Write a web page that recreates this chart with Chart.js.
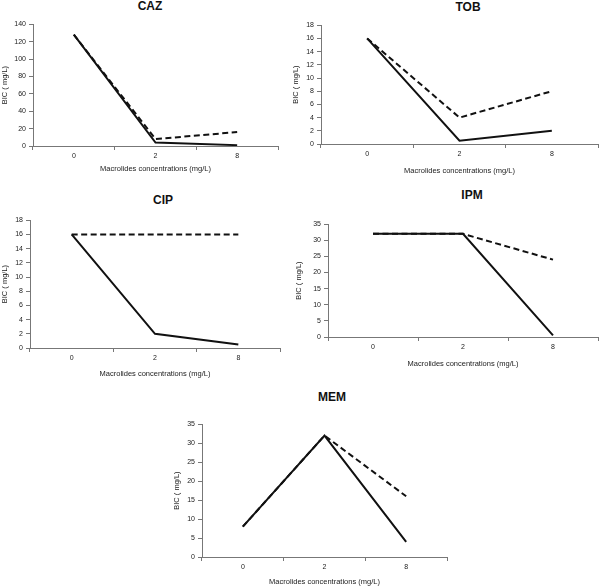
<!DOCTYPE html>
<html>
<head>
<meta charset="utf-8">
<script src="https://cdn.jsdelivr.net/npm/chart.js@4.4.0/dist/chart.umd.min.js"></script>
<style>
  html, body { margin: 0; padding: 0; background: #fff; }
  #wrap { position: relative; width: 600px; height: 587px; overflow: hidden; background: #fff; }
  canvas { position: absolute; }
  .ttl { position: absolute; transform: translate(-50%, -50%); font: bold 12px "Liberation Sans", Arial, sans-serif; color: #111; white-space: nowrap; }
</style>
</head>
<body>
<div id="wrap"></div>
<script>
// ---- data ----
const categories = ['0', '2', '8'];
const xAxisTitle = 'Macrolides concentrations (mg/L)';
const yAxisTitle = 'BIC ( mg/L)';

const cazSolid  = [128, 4, 1];
const cazDashed = [128, 8, 16];
const tobSolid  = [16, 0.5, 2];
const tobDashed = [16, 4, 8];
const cipSolid  = [16, 2, 0.5];
const cipDashed = [16, 16, 16];
const ipmSolid  = [32, 32, 0.5];
const ipmDashed = [32, 32, 24];
const memSolid  = [8, 32, 4];
const memDashed = [8, 32, 16];

const panelNames = ['CAZ', 'TOB', 'CIP', 'IPM', 'MEM'];
const yMaxes  = [140, 18, 18, 35, 35];
const ySteps  = [20, 2, 2, 5, 5];

// ---- layout (pixel geometry only) ----
const layouts = [
  { tx: 150, ty: 6,   sl: 0,   ax: 33,  right: 278, top: 23,  bottom: 146, xd: 22 },
  { tx: 468, ty: 7,   sl: 291, ax: 321, right: 598, top: 24,  bottom: 144, xd: 26 },
  { tx: 163, ty: 200, sl: 0,   ax: 30,  right: 280, top: 219, bottom: 348, xd: 25 },
  { tx: 472, ty: 195, sl: 294, ax: 328, right: 598, top: 223, bottom: 337, xd: 26 },
  { tx: 332, ty: 397, sl: 172, ax: 202, right: 447, top: 423, bottom: 557, xd: 24 }
];
const solids  = [cazSolid, tobSolid, cipSolid, ipmSolid, memSolid];
const dasheds = [cazDashed, tobDashed, cipDashed, ipmDashed, memDashed];

const wrap = document.getElementById('wrap');
const FONT = '"Liberation Sans", Arial, sans-serif';
const axisColor = '#777';
const textColor = '#222';

panelNames.forEach((name, i) => {
  const L = layouts[i];
  const padTop = 6, padRight = 4;
  const titleFont = 7.5, titleLH = titleFont * 1.2;
  const xH = Math.round(L.xd + titleLH / 2);
  const w = L.right - L.sl + padRight;
  const h = padTop + (L.bottom - L.top) + xH;

  const t = document.createElement('div');
  t.className = 'ttl';
  t.style.left = L.tx + 'px';
  t.style.top = L.ty + 'px';
  t.textContent = name;
  wrap.appendChild(t);

  const c = document.createElement('canvas');
  c.width = w; c.height = h;
  c.style.left = L.sl + 'px';
  c.style.top = (L.top - padTop) + 'px';
  c.style.width = w + 'px';
  c.style.height = h + 'px';
  wrap.appendChild(c);

  new Chart(c.getContext('2d'), {
    type: 'line',
    data: {
      labels: categories,
      datasets: [
        { data: solids[i], borderColor: '#111', borderWidth: 2, pointRadius: 0, tension: 0, fill: false },
        { data: dasheds[i], borderColor: '#111', borderWidth: 2, borderDash: [6, 3.5], pointRadius: 0, tension: 0, fill: false }
      ]
    },
    options: {
      responsive: false,
      animation: false,
      devicePixelRatio: 1,
      layout: { padding: { top: padTop, right: padRight, left: 0, bottom: 0 } },
      plugins: { legend: { display: false }, tooltip: { enabled: false }, title: { display: false } },
      scales: {
        x: {
          type: 'category',
          offset: true,
          grid: { offset: true, drawOnChartArea: false, drawTicks: true, tickLength: 4, color: axisColor },
          border: { color: axisColor, width: 1 },
          ticks: { font: { family: FONT, size: 7 }, color: textColor, padding: 2, maxRotation: 0, autoSkip: false },
          title: { display: true, text: xAxisTitle, font: { family: FONT, size: titleFont }, color: textColor, padding: 0 },
          afterFit: s => { s.height = xH; }
        },
        y: {
          min: 0,
          max: yMaxes[i],
          grid: { drawOnChartArea: false, drawTicks: true, tickLength: 4, color: axisColor },
          border: { color: axisColor, width: 1 },
          ticks: { stepSize: ySteps[i], font: { family: FONT, size: 7 }, color: textColor, padding: 3, autoSkip: false },
          title: { display: true, text: yAxisTitle, font: { family: FONT, size: titleFont }, color: textColor, padding: 0 },
          afterFit: s => { s.width = L.ax - L.sl; }
        }
      }
    }
  });
});
</script>
</body>
</html>
